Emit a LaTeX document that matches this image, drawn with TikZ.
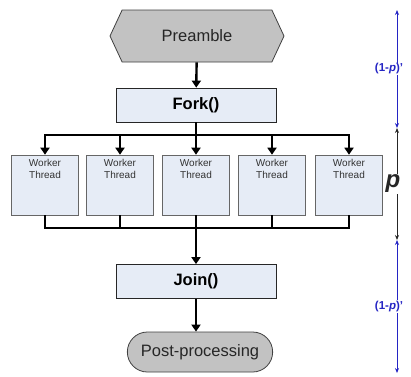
\documentclass[tikz,border=0pt]{standalone}
\usepackage{fontspec}
\setmainfont{Liberation Sans}
\usepackage{xcolor}
\usepackage{tikz}
\usetikzlibrary{shapes,arrows.meta,positioning,calc}

\definecolor{boxblue}{RGB}{230,236,246}
\definecolor{boxgray}{RGB}{194,194,194}
\definecolor{dimblue}{RGB}{36,36,196}

\begin{document}
\begin{tikzpicture}[x=1pt, y=-1pt,
  blk/.style={rectangle, draw=black!85, fill=boxblue, line width=0.8pt,
              minimum width=160pt, minimum height=34pt,
              font=\fontsize{16.5}{18}\selectfont\bfseries},
  wrk/.style={rectangle, draw=black!60, fill=boxblue, line width=0.6pt,
              minimum width=67pt, minimum height=60pt},
  wlab/.style={align=center, anchor=north, yshift=-3pt, inner sep=1pt,
               font=\fontsize{10}{12}\selectfont, text=black!80},
  term/.style={draw=black!75, fill=boxgray, line width=0.8pt,
               font=\fontsize{16.5}{18}\selectfont, text=black!85},
  arr/.style={-{Triangle[width=9pt,length=7pt]}, line width=2.4pt},
  bar/.style={line width=2.4pt},
  dim/.style={{Stealth[length=5pt,width=4pt]}-{Stealth[length=5pt,width=4pt]},
              line width=0.8pt},
  dimlab/.style={fill=white, inner sep=1pt, xshift=-8pt,
                 font=\fontsize{11.5}{13}\selectfont\bfseries}
]
\useasboundingbox (0,0) rectangle (411,376);

\node[term, signal, signal to=west and east, signal pointer angle=130,
      minimum width=174pt, minimum height=52pt] (pre) at (197,36) {Preamble};
\node[blk] (fork) at (196,105) {Fork()};

\foreach \x [count=\i] in {45,120,196,272,349}
  \node[wrk, label={[wlab]north:Worker\\Thread}] (w\i) at (\x,185) {};

\node[blk] (join) at (196,281.5) {Join()};
\node[term, rounded rectangle, minimum width=152pt, minimum height=40pt]
      (post) at (200,352) {Post-processing};

% fork out / join in
\coordinate (split) at (196,135);
\coordinate (merge) at (196,228);

\draw[arr] (pre) -- (fork);
\draw[bar] (fork) -- (split);
\foreach \i in {1,...,5}
  \draw[arr] (split) -| (w\i);
\foreach \i in {1,...,5}
  \draw[bar] (w\i) |- (merge);
\draw[arr] (merge) -- (join);
\draw[arr] (join.south) -- (join.south |- post.north);

% shares of the run time
\coordinate (d0) at (397,10);
\coordinate (d1) at (397,128);
\coordinate (d2) at (397,240);
\coordinate (d3) at (397,373);

\draw[dim, dimblue] (d0) -- node[dimlab, text=dimblue] {(1-\textit{p})'} (d1);
\draw[dim, black!85] (d1) -- node[fill=white, inner sep=1pt, xshift=-4pt,
      font=\fontsize{24}{26}\selectfont\bfseries\itshape] {p} (d2);
\draw[dim, dimblue] (d2) -- node[dimlab, text=dimblue] {(1-\textit{p})'} (d3);
\end{tikzpicture}
\end{document}
